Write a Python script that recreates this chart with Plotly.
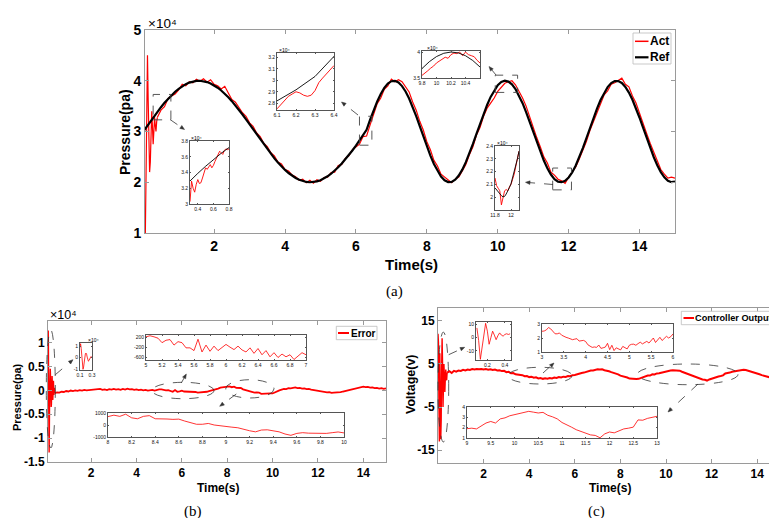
import plotly.graph_objects as go

W, H = 777, 518
FONT = "Liberation Sans, Arial, Helvetica, sans-serif"
SERIF = "Liberation Serif, Times New Roman, serif"

# ================= DATA =================
# (a) pressure tracking, values in units of 1e4 Pa
ref_t0, ref_dt = 0.0, 0.1
ref_pressure = [
    3.000, 3.100, 3.199, 3.296, 3.389, 3.479, 3.565, 3.644, 3.717, 3.783,
    3.841, 3.891, 3.932, 3.964, 3.985, 3.997, 4.000, 3.992, 3.974, 3.946,
    3.909, 3.863, 3.808, 3.746, 3.675, 3.598, 3.516, 3.427, 3.335, 3.239,
    3.141, 3.042, 2.942, 2.842, 2.745, 2.649, 2.557, 2.470, 2.388, 2.312,
    2.243, 2.182, 2.128, 2.084, 2.048, 2.022, 2.006, 2.000, 2.004, 2.018,
    2.041, 2.075, 2.117, 2.168, 2.227, 2.295, 2.369, 2.450, 2.535, 2.626,
    2.721, 2.818, 2.917, 3.034, 3.232, 3.420, 3.592, 3.740, 3.859, 3.944,
    3.991, 3.998, 3.966, 3.895, 3.788, 3.650, 3.487, 3.304, 3.107, 2.908,
    2.712, 2.526, 2.361, 2.221, 2.113, 2.038, 2.003, 2.007, 2.051, 2.133,
    2.249, 2.396, 2.567, 2.754, 2.951, 3.150, 3.343, 3.523, 3.682, 3.813,
    3.913, 3.976, 4.000, 3.984, 3.929, 3.837, 3.712, 3.558, 3.382, 3.190,
    2.991, 2.793, 2.603, 2.428, 2.275, 2.152, 2.062, 2.013, 2.001, 2.028,
    2.094, 2.194, 2.330, 2.490, 2.673, 2.867, 3.067, 3.264, 3.450, 3.619,
    3.762, 3.876, 3.954, 3.994, 3.995, 3.956, 3.879, 3.767, 3.625, 3.457,
    3.271, 3.074, 2.875, 2.681, 2.498, 2.335, 2.200, 2.098, 2.030, 2.001,
    2.012,
]

act_start_t0, act_start_dt = 0.06, 0.02
act_start = [1.0, 2.8, 4.2, 4.5, 3.6, 2.6, 2.2, 2.4, 3.1, 3.4, 3.1, 2.75,
             3.0, 3.28, 3.12, 3.0, 3.2, 3.28]

act_t0, act_dt = 0.4, 0.1
act_pressure = [
    3.28, 3.42, 3.49, 3.65, 3.70, 3.74,
    3.82, 3.93, 3.90, 3.98, 3.96, 4.03, 3.99, 4.04, 3.97, 4.02,
    3.93, 3.90, 3.84, 3.89, 3.76, 3.63, 3.58, 3.47, 3.37, 3.30,
    3.17, 3.10, 2.97, 2.90, 2.77, 2.70, 2.58, 2.52, 2.40, 2.36,
    2.25, 2.22, 2.14, 2.11, 2.04, 2.06, 1.99, 2.04, 1.98, 2.05,
    2.02, 2.09, 2.10, 2.19, 2.20, 2.33, 2.35, 2.47, 2.52, 2.64,
    2.69, 2.75, 2.90, 2.91, 3.13, 3.36, 3.55, 3.66, 3.83, 3.90,
    4.03, 3.98, 4.02, 3.98, 3.87, 3.78, 3.58, 3.42, 3.20, 3.03,
    2.80, 2.64, 2.43, 2.32, 2.16, 2.10, 2.04, 1.99, 2.06, 2.10,
    2.22, 2.35, 2.54, 2.70, 2.93, 3.08, 3.30, 3.46, 3.56, 3.66,
    3.79, 3.88, 3.95, 3.98, 4.00, 3.92, 3.80, 3.66, 3.50, 3.28,
    3.10, 2.88, 2.70, 2.50, 2.38, 2.20, 2.14, 2.06, 2.03, 1.98,
    2.10, 2.20, 2.30, 2.46, 2.62, 2.80, 3.02, 3.20, 3.40, 3.55,
    3.72, 3.80, 3.93, 3.96, 4.00, 4.05, 3.93, 3.88, 3.70, 3.56,
    3.36, 3.18, 2.96, 2.77, 2.60, 2.43, 2.25, 2.16, 2.08, 2.10,
    2.08,
]

# zoomed samples shown in the insets of (a)
act_in1_t0, act_in1_dt = 0.3, 0.02
act_in1 = [3.03, 3.29, 3.20, 3.15, 3.25, 3.31, 3.26, 3.27, 3.33, 3.40, 3.46, 3.44, 3.48,
           3.50, 3.46, 3.49, 3.54, 3.58, 3.63, 3.67, 3.65, 3.63, 3.68, 3.70, 3.69, 3.70]
act_in2_t0, act_in2_dt = 6.1, 0.02
act_in2 = [2.75, 2.79, 2.83, 2.86, 2.88, 2.90, 2.89, 2.87, 2.86, 2.87, 2.91, 2.98,
           3.02, 3.06, 3.10, 3.13]
act_in3_t0, act_in3_dt = 9.8, 0.04
act_in3 = [3.55, 3.59, 3.64, 3.69, 3.73, 3.79, 3.83, 3.86, 3.90, 3.88, 3.95, 3.98,
           3.97, 4.00, 3.93, 4.00, 3.95, 3.93, 3.91, 3.84, 3.79]
in4_t0, in4_dt = 11.8, 0.02
act_in4 = [2.15, 2.09, 2.07, 2.05, 1.94, 1.99, 2.05, 2.06, 2.05, 2.08, 2.10, 2.14,
           2.18, 2.24, 2.30, 2.36]
ref_in4 = [2.073, 2.056, 2.043, 2.026, 2.012, 2.003, 2.006, 2.025, 2.045, 2.075,
           2.105, 2.150, 2.200, 2.250, 2.300, 2.360]

# (b) tracking error, Pa
err_start_t0, err_start_dt = 0.1, 0.01
err_start = [2000, 12500, 8000, -2000, -10000, -13000, -8000, -2000, 2000, 4000,
             4500, 3000, 500, -2500, -3500, -3000, -1000, 1000, 3000, 1500,
             -500, -2000, -1000, 1000, 2000, 500, -1000, -500, 500, 200, -600]
err_t0, err_dt = 0.4, 0.1
err = [
    -600, -450, -500, -300, -350, -150,
    -250, -50, -150, 0, -100, 50, -50, 100, 0, 50,
    -50, 100, 50, 150, 300, 100, 200, 50, 250, 150,
    300, 150, 250, 100, 300, 150, 350, 200, 250, 100,
    200, 50, 150, 0, 100, -50, 50, 100, -50, 150,
    200, 200, 60, 0, 30, -200, -300, 50, -300, -200,
    -80, -250, -280, -350, -250, -420, -350, -500, -450, -550,
    -450, -300, -150, -50, 100, 250, 350, 550, 650, 600,
    750, 800, 650, 750, 500, 500, 480, 200, 60, 0,
    -80, -230, -480, -420, -470, -750, -700, -680, -740, -640,
    -660, -400, -150, 0, 150, 300, 250, 450, 400, 550,
    600, 450, 500, 350, 400, 250, 300, 150, 50, -100,
    -50, -250, -300, -350, -450, -400, -550, -500, -480, -350,
    -400, -250, -150, -50, 100, 200, 350, 450, 600, 550,
    750, 650, 700, 550, 600, 450, 500, 350, 450, 300,
    400,
]
err_in1_t0, err_in1_dt = 0.1, 0.01
err_in1 = [9000, 12000, 8000, 0, -7000, -10000, -8000, -3000, 1000, 3500, 4000,
           3000, 500, -2000, -3000, -2500, -1000, 0, 800, 600, 200]
err_in2_t0, err_in2_dt = 5.0, 0.05
err_in2 = [228, 270, 228, 172, -7, 90, 117, -103, 34, -7,
           -214, -214, -324, 131, -379, -103, -352, -145, -324, -186,
           -76, -186, -283, -145, -297, -379, -214, -434, -241, -490,
           -324, -572, -407, -600, -462, -572, -490, -680, -545, -407,
           -490]
err_in3_t0, err_in3_dt = 8.0, 0.05
err_in3 = [700, 820, 720, 900, 600, 520, 720, 780, 520, 480,
           500, 470, 490, 330, 180, 60, 60, 130, 0, -40,
           -80, -180, -230, -380, -480, -570, -420, -400, -470, -570,
           -750, -860, -700, -640, -680, -700, -740, -700, -640, -580,
           -660]

# (c) controller output, V
u_start_t0, u_start_dt = 0.0, 0.02
u_start = [12, 10, -4, -13, 7.5, -2, -12.5, -8, 4, 11, 5, -5, 0, 5, 2, -1.5, 1.5,
           3.7, 2, 1.2, 3.0]
u_t0, u_dt = 0.4, 0.1
u_out = [
    3.0, 3.3, 2.9, 3.4, 3.2, 3.5,
    3.4, 3.65, 3.5, 3.7, 3.6, 3.8, 3.7, 3.85, 3.75, 3.85,
    3.7, 3.8, 3.65, 3.75, 3.6, 3.7, 3.5, 3.55, 3.35, 3.4,
    3.1, 3.2, 2.85, 2.9, 2.6, 2.55, 2.35, 2.4, 2.15, 2.2,
    1.95, 2.05, 1.8, 1.9, 1.65, 1.75, 1.55, 1.7, 1.6, 1.75,
    1.65, 1.85, 1.75, 1.95, 1.85, 2.05, 2.0, 2.2, 2.15, 2.4,
    2.45, 2.65, 2.7, 2.9, 3.0, 3.2, 3.3, 3.5, 3.5, 3.7,
    3.75, 3.7, 3.75, 3.55, 3.5, 3.3, 3.1, 2.95, 2.7, 2.6,
    2.3, 2.2, 1.95, 1.85, 1.6, 1.55, 1.4, 1.5, 1.55, 1.75,
    1.85, 2.0, 2.3, 2.3, 2.6, 2.55, 2.8, 2.85, 3.0, 3.1,
    3.3, 3.35, 3.5, 3.55, 3.55, 3.4, 3.45, 3.2, 3.0, 2.8,
    2.6, 2.3, 2.15, 1.95, 1.7, 1.6, 1.4, 1.35, 1.15, 1.4,
    1.6, 1.65, 1.9, 2.1, 2.2, 2.35, 2.8, 2.85, 3.0, 3.2,
    3.3, 3.45, 3.55, 3.7, 3.65, 3.6, 3.45, 3.35, 3.1, 2.95,
    2.75, 2.6, 2.4, 2.25, 2.0, 1.9, 1.7, 1.6, 1.45, 1.4,
    1.35,
]
u_in1_t0, u_in1_dt = 0.08, 0.02
u_in1 = [7.5, -2, -16.5, -8, 4, 11, 5, -5, 0, 5, 2, -1.5, 1.5, 3.7, 2, 1.2, 2.5, 3, 2.5, 3]
u_in2_t0, u_in2_dt = 3.0, 0.05
u_in2 = [2.48, 2.50, 2.58, 2.75, 2.65, 2.48, 2.30, 2.30, 2.36, 2.20,
         2.10, 2.05, 2.00, 1.95, 1.88, 1.92, 1.95, 1.78, 1.80, 1.83,
         1.75, 1.52, 1.42, 1.33, 1.36, 1.33, 1.50, 1.26, 1.30, 1.35,
         1.62, 1.17, 1.48, 1.10, 1.30, 1.20, 1.15, 1.40, 1.30, 1.22,
         1.48, 1.55, 1.56, 1.48, 1.60, 1.70, 1.58, 1.68, 1.76, 1.64,
         1.80, 2.00, 1.68, 1.85, 2.05, 1.82, 1.95, 2.12, 2.00, 2.10,
         2.29]
u_in3_t0, u_in3_dt = 9.0, 0.1
u_in3 = [1.90, 1.95, 1.88, 2.15, 2.45, 2.60, 2.45, 2.85, 2.95, 3.15,
         3.25, 3.40, 3.45, 3.58, 3.50, 3.42, 3.48, 3.20, 3.05, 2.85,
         2.50, 2.30, 2.05, 1.80, 1.65, 1.50, 1.30, 1.25, 1.02, 1.40,
         1.58, 1.50, 1.70, 1.88, 1.95, 2.05, 2.75, 2.72, 2.90, 3.00,
         3.10]

# tick values / labels
time_ticks = [2, 4, 6, 8, 10, 12, 14]
a_yticks = [1, 2, 3, 4, 5]
b_yticks = [-15000, -10000, -5000, 0, 5000, 10000]
b_ytext = ["-1.5", "-1", "-0.5", "0", "0.5", "1"]
c_yticks = [-15, -5, 5, 15]
a1_x = [0.4, 0.6, 0.8]; a1_y = [3, 3.2, 3.4, 3.6, 3.8]
a2_x = [6.1, 6.2, 6.3, 6.4]; a2_y = [2.8, 2.9, 3, 3.1, 3.2]
a3_x = [9.8, 10, 10.2, 10.4]; a3_y = [3.5, 4]
a4_x = [11.8, 12]; a4_y = [2, 2.1, 2.2, 2.3, 2.4]
b1_x = [0.1, 0.3]; b1_y = [-10000, 0, 10000]; b1_ytext = ["-1", "0", "1"]
b2_x = [5, 5.2, 5.4, 5.6, 5.8, 6, 6.2, 6.4, 6.6, 6.8, 7]; b2_y = [-600, -200, 200]
b3_x = [8, 8.2, 8.4, 8.6, 8.8, 9, 9.2, 9.4, 9.6, 9.8, 10]; b3_y = [-1000, 0, 1000]
c1_x = [0.2, 0.4]; c1_y = [-10, 0, 10]
c2_x = [3, 3.5, 4, 4.5, 5, 5.5, 6]; c2_y = [1, 2, 3]
c3_x = [9, 9.5, 10, 10.5, 11, 11.5, 12, 12.5, 13]; c3_y = [1, 2, 3, 4]
exp_label = "×10⁴"


# ================= LAYOUT HELPERS =================
def px(x):
    return x / W


def py(y):
    return 1 - y / H


def fmt(v):
    return "%g" % v


# (left, right, top, bottom) pixel boxes, ranges, ticks, kind
specs = [
    dict(box=(137, 667, 22, 225), xr=[0.05, 15], yr=[1, 5], xt=time_ticks, yt=a_yticks, kind="main", fs=14),
    dict(box=(182, 221, 133, 196), xr=[0.3, 0.8], yr=[3, 3.8], xt=a1_x, yt=a1_y, kind="inset"),
    dict(box=(269, 326, 45, 102), xr=[6.1, 6.4], yr=[2.74, 3.24], xt=a2_x, yt=a2_y, kind="inset"),
    dict(box=(414, 472, 43, 70), xr=[9.8, 10.6], yr=[3.5, 4.02], xt=a3_x, yt=a3_y, kind="inset"),
    dict(box=(487, 511, 138, 202), xr=[11.8, 12.1], yr=[1.9, 2.4], xt=a4_x, yt=a4_y, kind="inset"),
    dict(box=(40, 378, 313, 454), xr=[0.1, 15], yr=[-15000, 14500], xt=time_ticks, yt=b_yticks,
         ytext=b_ytext, kind="main", fs=12),
    dict(box=(72, 84, 335, 362), xr=[0.1, 0.3], yr=[-10600, 12600], xt=b1_x, yt=b1_y, ytext=b1_ytext, kind="inset"),
    dict(box=(138, 298, 327, 352), xr=[5, 7], yr=[-700, 300], xt=b2_x, yt=b2_y, kind="inset"),
    dict(box=(100, 336, 405, 429), xr=[8, 10], yr=[-1000, 1000], xt=b3_x, yt=b3_y, kind="inset"),
    dict(box=(430, 772, 300, 455), xr=[0, 15], yr=[-18, 18], xt=time_ticks, yt=c_yticks, kind="main", fs=12),
    dict(box=(468, 503, 314, 352), xr=[0.07, 0.47], yr=[-17, 12], xt=c1_x, yt=c1_y, kind="inset"),
    dict(box=(534, 665, 316, 344), xr=[3, 6], yr=[1, 3], xt=c2_x, yt=c2_y, kind="inset"),
    dict(box=(459, 649, 399, 430), xr=[9, 13], yr=[1, 4], xt=c3_x, yt=c3_y, kind="inset"),
]

layout = dict(
    width=W, height=H, margin=dict(l=0, r=0, t=0, b=0),
    paper_bgcolor="white", plot_bgcolor="white", showlegend=False,
    font=dict(family=FONT, color="black"),
)

for i, s in enumerate(specs, start=1):
    l, r, t, b = s["box"]
    sfx = "" if i == 1 else str(i)
    if s["kind"] == "main":
        tf = dict(family=FONT, size=s["fs"], color="black", weight="bold")
        common = dict(showline=True, linecolor="#9a9a9a", linewidth=1, mirror="ticks",
                      ticks="inside", ticklen=4, tickcolor="#9a9a9a", tickwidth=1,
                      showgrid=False, zeroline=False, automargin=False, tickfont=tf)
    else:
        tf = dict(family=FONT, size=5, color="#111111")
        common = dict(showline=True, linecolor="#555555", linewidth=0.8, mirror="ticks",
                      ticks="inside", ticklen=1.5, tickcolor="#555555", tickwidth=0.6,
                      showgrid=False, zeroline=False, automargin=False, tickfont=tf)
    layout["xaxis" + sfx] = dict(domain=[px(l), px(r)], range=s["xr"], anchor="y" + sfx,
                                 tickmode="array", tickvals=s["xt"],
                                 ticktext=[fmt(v) for v in s["xt"]], **common)
    layout["yaxis" + sfx] = dict(domain=[py(b), py(t)], range=s["yr"], anchor="x" + sfx,
                                 tickmode="array", tickvals=s["yt"],
                                 ticktext=s.get("ytext", [fmt(v) for v in s["yt"]]), **common)

fig = go.Figure(layout=layout)

RED = "#ff0000"


def add(y, x0, dx, ax, color=RED, width=1.2, name=None):
    sfx = "" if ax == 1 else str(ax)
    fig.add_trace(go.Scatter(y=y, x0=x0, dx=dx, mode="lines", name=name,
                             line=dict(color=color, width=width),
                             xaxis="x" + sfx, yaxis="y" + sfx,
                             hoverinfo="skip", showlegend=False))


# (a) main
add(act_start, act_start_t0, act_start_dt, 1, width=1.2, name="Act")
add(act_pressure, act_t0, act_dt, 1, width=1.2, name="Act")
add(ref_pressure, ref_t0, ref_dt, 1, color="black", width=2.2, name="Ref")
# (a) insets
add(act_in1, act_in1_t0, act_in1_dt, 2, width=0.9)
add(ref_pressure, ref_t0, ref_dt, 2, color="black", width=0.9)
add(act_in2, act_in2_t0, act_in2_dt, 3, width=0.9)
add(ref_pressure, ref_t0, ref_dt, 3, color="black", width=0.9)
add(act_in3, act_in3_t0, act_in3_dt, 4, width=0.9)
add(ref_pressure, ref_t0, ref_dt, 4, color="black", width=0.9)
add(act_in4, in4_t0, in4_dt, 5, width=0.9)
add(ref_in4, in4_t0, in4_dt, 5, color="black", width=0.9)
# (b)
add(err_start, err_start_t0, err_start_dt, 6, width=1.4, name="Error")
add(err, err_t0, err_dt, 6, width=1.8, name="Error")
add(err_in1, err_in1_t0, err_in1_dt, 7, width=0.8)
add(err_in2, err_in2_t0, err_in2_dt, 8, width=0.8)
add(err_in3, err_in3_t0, err_in3_dt, 9, width=0.8)
# (c)
add(u_start, u_start_t0, u_start_dt, 10, width=1.4, name="Controller Output")
add(u_out, u_t0, u_dt, 10, width=2.0, name="Controller Output")
add(u_in1, u_in1_t0, u_in1_dt, 11, width=0.8)
add(u_in2, u_in2_t0, u_in2_dt, 12, width=0.8)
add(u_in3, u_in3_t0, u_in3_dt, 13, width=0.8)

# ================= DECORATIONS =================
shapes = []
ann = []
GREY = "#333333"

# dashed zoom boxes in (a), in data coordinates
for x0, x1, y0, y1 in [(0.28, 0.78, 3.23, 3.73), (6.1, 6.45, 2.73, 3.3),
                       (9.93, 10.56, 3.77, 4.11), (11.55, 12.08, 1.85, 2.28)]:
    shapes.append(dict(type="rect", xref="x", yref="y", x0=x0, x1=x1, y0=y0, y1=y1,
                       line=dict(color="#444444", width=0.9, dash="dash")))

# dashed ellipses in (b) and (c), pixel boxes
for l, r, t, b in [(38.3, 47.3, 322, 440), (144, 206, 374.3, 390.7), (217.7, 266, 371.7, 390),
                   (430, 440.7, 324, 434), (500, 564, 359.3, 376), (629.3, 730, 356, 376.7)]:
    shapes.append(dict(type="circle", xref="paper", yref="paper",
                       x0=px(l), x1=px(r), y0=py(b), y1=py(t),
                       line=dict(color=GREY, width=0.8, dash="dash")))

# dashed arrows (tail -> head) with filled heads, pixel coordinates
arrows = [((162, 111.5), (176.5, 121.5)), ((350, 107), (333.5, 94)),
          ((488, 67), (481, 58.5)), ((545, 176.5), (517.5, 174.3)),
          ((47.3, 366.7), (65, 351.7)), ((173.3, 375), (178.3, 366)),
          ((228.3, 386), (211.7, 398.3)),
          ((440.7, 346.7), (456.7, 339.3)), ((535, 365), (546, 355)),
          ((690, 376), (660, 404))]
for (tx, ty), (hx, hy) in arrows:
    dx, dy = hx - tx, hy - ty
    n = (dx * dx + dy * dy) ** 0.5
    ux, uy = dx / n, dy / n
    bx, by = hx - ux * 4.5, hy - uy * 4.5
    shapes.append(dict(type="line", xref="paper", yref="paper",
                       x0=px(tx), y0=py(ty), x1=px(bx), y1=py(by),
                       line=dict(color=GREY, width=0.8, dash="dash")))
    p1 = (bx - uy * 1.8, by + ux * 1.8)
    p2 = (bx + uy * 1.8, by - ux * 1.8)
    path = "M %.5f,%.5f L %.5f,%.5f L %.5f,%.5f Z" % (px(hx), py(hy), px(p1[0]), py(p1[1]),
                                                        px(p2[0]), py(p2[1]))
    shapes.append(dict(type="path", xref="paper", yref="paper", path=path,
                       fillcolor=GREY, line=dict(color=GREY, width=0.5)))

# manual legends
legends = [
    dict(box=(625, 663, 25, 56), items=[("Act", RED, 1.5, 33.3), ("Ref", "black", 2.2, 49.3)],
         lx=(627, 640.5), tx=641, fs=12),
    dict(box=(328.3, 369, 318.3, 331.7), items=[("Error", RED, 2, 325)],
         lx=(330, 341), tx=341.5, fs=10),
    dict(box=(673.3, 768.3, 303.3, 316.7), items=[("Controller Output", RED, 2, 310)],
         lx=(675.5, 686), tx=686, fs=9.2),
]
for lg in legends:
    l, r, t, b = lg["box"]
    shapes.append(dict(type="rect", xref="paper", yref="paper", x0=px(l), x1=px(r),
                       y0=py(b), y1=py(t), fillcolor="white",
                       line=dict(color="#bbbbbb", width=0.8)))
    for label, col, w, yy in lg["items"]:
        shapes.append(dict(type="line", xref="paper", yref="paper",
                           x0=px(lg["lx"][0]), x1=px(lg["lx"][1]), y0=py(yy), y1=py(yy),
                           line=dict(color=col, width=w)))
        ann.append(dict(x=px(lg["tx"]), y=py(yy), xref="paper", yref="paper", text=label,
                        showarrow=False, xanchor="left", yanchor="middle", borderpad=0,
                        font=dict(family=FONT, size=lg["fs"], color="black", weight="bold")))


def text(s, x, y, size, bold=False, angle=0, family=FONT, xanchor="center"):
    f = dict(family=family, size=size, color="black")
    if bold:
        f["weight"] = "bold"
    ann.append(dict(x=px(x), y=py(y), xref="paper", yref="paper", text=s, showarrow=False,
                    xanchor=xanchor, yanchor="middle", textangle=angle, font=f, borderpad=0))


# axis titles
text("Pressure(pa)", 116.5, 123.5, 14, bold=True, angle=-90)
text("Time(s)", 403, 256, 15, bold=True)
text("Pressure(pa)", 9, 389, 11, bold=True, angle=-90)
text("Time(s)", 210, 480, 12, bold=True)
text("Voltage(v)", 403, 376, 12.5, bold=True, angle=-90)
text("Time(s)", 602, 479.5, 12, bold=True)
# exponent labels
text(exp_label, 139, 15, 13.5, xanchor="left")
text(exp_label, 41, 307, 12.5, xanchor="left")
for x, y in [(182, 129.5), (270, 41.5), (418, 40), (488, 134.5), (79, 332)]:
    text(exp_label, x, y, 5, xanchor="left")
# panel captions
text("(a)", 386, 283, 15, family=SERIF)
text("(b)", 185, 503, 15, family=SERIF)
text("(c)", 588, 503, 15, family=SERIF)

fig.update_layout(shapes=shapes, annotations=ann)
fig.write_html("out.html")
